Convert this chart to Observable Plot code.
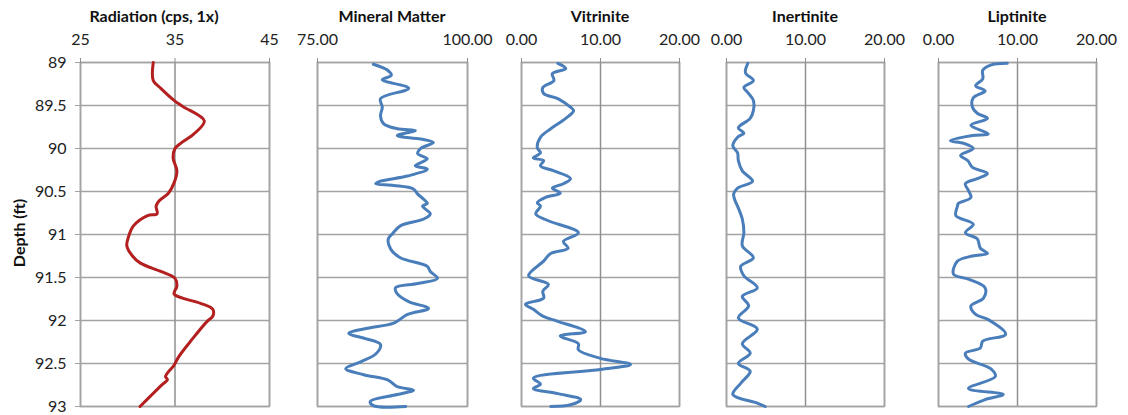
<!DOCTYPE html>
<html>
<head>
<meta charset="utf-8">
<script src="https://cdn.jsdelivr.net/npm/d3@7"></script>
<script src="https://cdn.jsdelivr.net/npm/@observablehq/plot@0.6"></script>
<style>
  html, body { margin: 0; padding: 0; background: #fff; }
  #chart { position: relative; width: 1128px; height: 415px; font-family: Lato, "Liberation Sans", sans-serif; }
  #chart svg { position: absolute; top: 0; overflow: visible; }
  .title { position: absolute; top: 6px; font-weight: bold; font-size: 16px; color: #111; transform: translateX(-50%); white-space: nowrap; }
  .ylab { position: absolute; left: 18px; top: 233px; font-weight: bold; font-size: 16px; color: #111; transform: translate(-50%, -50%) rotate(-90deg); white-space: nowrap; }
</style>
</head>
<body>
<div id="chart"></div>
<script>
// Depth ticks shared by all tracks (ft)
const depthTicks = [89, 89.5, 90, 90.5, 91, 91.5, 92, 92.5, 93];

// Gamma radiation log (cps, 1x)
const radDepth = [89.0, 89.21, 89.30, 89.44, 89.51, 89.68, 89.83, 89.94, 90.0, 90.11, 90.26, 90.40, 90.52, 90.61, 90.67, 90.76, 90.78, 90.90, 91.02, 91.13, 91.25, 91.33, 91.43, 91.51, 91.60, 91.69, 91.74, 91.80, 91.87, 91.95, 92.01, 92.22, 92.42, 92.52, 92.65, 92.69, 92.74, 93.0];
const radValue = [32.7, 32.7, 33.5, 34.9, 35.8, 38.1, 37.0, 35.6, 35.0, 34.8, 35.2, 34.9, 34.3, 33.3, 33.0, 33.1, 32.1, 30.6, 30.1, 29.9, 30.5, 31.3, 33.5, 35.0, 35.2, 34.9, 35.8, 37.7, 39.0, 39.0, 38.4, 36.8, 35.4, 34.9, 34.0, 34.2, 33.7, 31.3];

// Mineral matter (%)
const mmDepth = [89.02, 89.09, 89.15, 89.2, 89.3, 89.42, 89.52, 89.62, 89.71, 89.77, 89.79, 89.85, 89.89, 89.93, 90.0, 90.06, 90.12, 90.2, 90.24, 90.32, 90.38, 90.41, 90.43, 90.47, 90.53, 90.59, 90.64, 90.67, 90.76, 90.82, 90.9, 90.99, 91.05, 91.17, 91.27, 91.37, 91.43, 91.51, 91.57, 91.62, 91.69, 91.78, 91.86, 91.93, 92.03, 92.09, 92.15, 92.21, 92.28, 92.39, 92.48, 92.56, 92.63, 92.69, 92.77, 92.81, 92.86, 92.94, 92.99, 93.0];
const mmValue = [84.3, 86.7, 87.3, 85.8, 90.2, 85.5, 85.8, 85.5, 86.0, 88.3, 91.3, 88.3, 92.2, 94.3, 92.2, 91.7, 93.3, 91.3, 93.3, 90.0, 85.5, 84.7, 87.7, 91.0, 91.7, 92.7, 93.3, 92.5, 93.8, 92.7, 88.8, 87.5, 86.8, 87.2, 88.8, 93.3, 93.8, 95.0, 91.7, 88.0, 88.3, 90.2, 93.5, 90.0, 87.7, 83.3, 80.2, 83.0, 85.5, 84.7, 82.2, 79.7, 82.7, 86.7, 88.3, 91.0, 88.3, 83.8, 84.3, 89.7];

// Vitrinite (%)
const vitDepth = [89.01, 89.07, 89.13, 89.21, 89.29, 89.36, 89.42, 89.52, 89.56, 89.65, 89.77, 89.87, 89.99, 90.05, 90.11, 90.14, 90.2, 90.26, 90.35, 90.41, 90.46, 90.52, 90.57, 90.63, 90.67, 90.76, 90.84, 90.98, 91.08, 91.16, 91.22, 91.31, 91.48, 91.58, 91.66, 91.74, 91.81, 91.87, 91.95, 92.01, 92.13, 92.18, 92.27, 92.34, 92.44, 92.51, 92.57, 92.67, 92.74, 92.79, 92.85, 92.92, 92.98, 93.0];
const vitValue = [4.6, 5.6, 3.9, 4.1, 2.7, 2.8, 4.6, 6.2, 6.6, 5.6, 3.7, 2.4, 2.0, 2.4, 1.5, 2.8, 2.4, 4.1, 6.2, 5.3, 3.9, 4.9, 3.0, 2.0, 2.4, 1.8, 3.4, 7.2, 5.3, 5.9, 3.7, 2.8, 0.9, 3.4, 2.7, 2.8, 0.5, 1.5, 2.7, 4.6, 8.1, 4.9, 7.2, 7.2, 10.0, 13.8, 10.0, 1.5, 2.4, 1.5, 4.6, 7.5, 6.2, 3.7];

// Inertinite (%)
const inDepth = [89.01, 89.12, 89.21, 89.29, 89.35, 89.44, 89.56, 89.65, 89.76, 89.82, 89.87, 89.97, 90.05, 90.14, 90.26, 90.38, 90.46, 90.53, 90.61, 90.67, 90.82, 90.98, 91.13, 91.27, 91.37, 91.48, 91.62, 91.72, 91.83, 91.97, 92.1, 92.27, 92.38, 92.5, 92.59, 92.73, 92.86, 92.96, 93.0];
const inValue = [2.7, 2.4, 3.4, 2.2, 2.7, 3.4, 3.4, 3.0, 1.5, 2.2, 1.4, 0.8, 1.4, 1.5, 2.0, 3.3, 1.4, 0.9, 1.1, 1.4, 2.0, 2.2, 2.0, 3.4, 1.8, 2.2, 3.9, 2.0, 2.8, 1.5, 3.9, 2.0, 3.0, 1.5, 3.0, 1.8, 0.8, 3.9, 4.9];

// Liptinite (%)
const lipDepth = [89.01, 89.03, 89.09, 89.19, 89.27, 89.33, 89.41, 89.52, 89.59, 89.65, 89.73, 89.83, 89.85, 89.91, 89.94, 90.0, 90.08, 90.14, 90.22, 90.29, 90.35, 90.41, 90.49, 90.57, 90.64, 90.67, 90.78, 90.88, 90.98, 91.05, 91.16, 91.22, 91.25, 91.31, 91.46, 91.52, 91.62, 91.74, 91.83, 91.93, 91.99, 92.16, 92.24, 92.32, 92.38, 92.45, 92.56, 92.65, 92.79, 92.86, 92.92, 93.0];
const lipValue = [8.7, 6.6, 5.6, 5.6, 4.7, 5.9, 4.4, 4.3, 4.9, 6.2, 4.1, 6.3, 4.3, 1.5, 3.2, 4.4, 2.8, 3.7, 4.3, 6.2, 4.9, 3.4, 3.8, 4.1, 2.5, 2.4, 2.2, 4.4, 3.4, 4.9, 5.3, 6.2, 4.3, 2.4, 1.9, 3.8, 5.9, 5.7, 4.1, 4.7, 6.3, 8.5, 5.6, 5.3, 3.4, 3.8, 6.6, 7.2, 3.8, 8.2, 5.9, 3.8];

// Track definitions: title, x ticks, curve data and colour, plus pixel extent of each track
const tracks = [
  {title: "Radiation (cps, 1x)", ticks: [25, 35, 45], fmt: d => String(d), depth: radDepth, value: radValue, color: "#b41f1f", x0: 80, x1: 269, titleX: 154, yAxis: true},
  {title: "Mineral Matter", ticks: [75, 100], fmt: d => d.toFixed(2), depth: mmDepth, value: mmValue, color: "#4a7ebb", x0: 317, x1: 467, titleX: 392},
  {title: "Vitrinite", ticks: [0, 10, 20], fmt: d => d.toFixed(2), depth: vitDepth, value: vitValue, color: "#4a7ebb", x0: 521, x1: 679, titleX: 600},
  {title: "Inertinite", ticks: [0, 10, 20], fmt: d => d.toFixed(2), depth: inDepth, value: inValue, color: "#4a7ebb", x0: 726, x1: 884, titleX: 805},
  {title: "Liptinite", ticks: [0, 10, 20], fmt: d => d.toFixed(2), depth: lipDepth, value: lipValue, color: "#4a7ebb", x0: 938, x1: 1096, titleX: 1017}
];

const chart = document.getElementById("chart");
const pad = 50;

for (const t of tracks) {
  const data = t.depth.map((d, i) => ({depth: d, value: t.value[i]}));
  const left = Math.max(0, t.x0 - pad);
  const marginLeft = t.x0 - left;
  const width = marginLeft + (t.x1 - t.x0) + pad;
  const marks = [
    Plot.gridY(depthTicks, {stroke: "#a3a3a3", strokeOpacity: 1, strokeWidth: 1.5}),
    Plot.gridX(t.ticks, {stroke: "#8f8f8f", strokeOpacity: 1, strokeWidth: 1.5}),
    Plot.frame({stroke: "#a3a3a3", strokeWidth: 1.5}),
    Plot.axisX(t.ticks, {anchor: "top", tickSize: 5, tickPadding: 13, tickFormat: t.fmt, stroke: "#8f8f8f", fontSize: 16, fill: "#222", label: null}),
    Plot.line(data, {x: "value", y: "depth", stroke: t.color, strokeWidth: 3, curve: "catmull-rom"})
  ];
  if (t.yAxis) {
    marks.push(Plot.axisY(depthTicks, {anchor: "left", tickSize: 5, tickPadding: 9, tickFormat: d => String(d), stroke: "#a3a3a3", fontSize: 16, fill: "#222", label: null}));
  }
  const svg = Plot.plot({
    width,
    height: 415,
    marginTop: 62,
    marginBottom: 9,
    marginLeft,
    marginRight: pad,
    style: {fontFamily: "Lato, 'Liberation Sans', sans-serif", background: "transparent"},
    x: {domain: [t.ticks[0], t.ticks[t.ticks.length - 1]], axis: null},
    y: {domain: [89, 93], reverse: true, axis: null},
    marks
  });
  svg.style.left = left + "px";
  chart.appendChild(svg);

  const title = document.createElement("div");
  title.className = "title";
  title.style.left = t.titleX + "px";
  title.textContent = t.title;
  chart.appendChild(title);
}

const ylab = document.createElement("div");
ylab.className = "ylab";
ylab.textContent = "Depth (ft)";
chart.appendChild(ylab);
</script>
</body>
</html>
